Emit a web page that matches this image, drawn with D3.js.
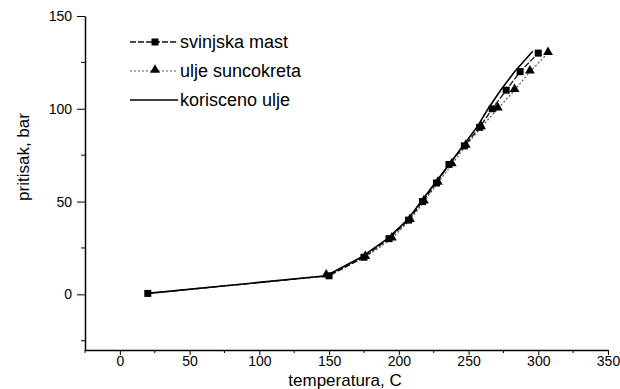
<!DOCTYPE html>
<html>
<head>
<meta charset="utf-8">
<script src="https://cdn.jsdelivr.net/npm/d3@7"></script>
<style>
  body { margin: 0; background: #fff; }
  svg { display: block; }
  text { font-family: "Liberation Sans", Arial, sans-serif; fill: #000; }
</style>
</head>
<body>
<svg id="chart" width="620" height="389"></svg>
<script>
// ---- data ----
const seriesNames = ["svinjska mast", "ulje suncokreta", "korisceno ulje"];
const tempMast = [20, 150, 175, 193, 207, 217, 227, 236, 247, 258, 267, 277, 287, 300];
const presMast = [0.5, 10, 20, 30, 40, 50, 60, 70, 80, 90, 100, 110, 120, 130];
const tempSuncokret = [148, 176, 195, 208, 218, 228, 238, 248, 259, 271, 283, 294, 307];
const presSuncokret = [10, 20, 30, 40, 50, 60, 70, 80, 90, 100, 110, 120, 130];
const tempKorisceno = [20, 148, 173, 192, 206, 216, 226, 236, 246, 256, 264, 273, 283, 296];
const presKorisceno = [0.5, 10, 20, 30, 40, 50, 60, 70, 80, 90, 100, 110, 120, 131];
const xTicks = [0, 50, 100, 150, 200, 250, 300, 350];
const yTicks = [0, 50, 100, 150];
const xMinor = [-25, 25, 75, 125, 175, 225, 275, 325];
const yMinor = [-25, 25, 75, 125];

(function () {
const svg = d3.select("#chart");
const mL = 85, mR = 608, mT = 16, mB = 350;
const x = d3.scaleLinear().domain([-25, 350]).range([mL, mR]);
const y = d3.scaleLinear().domain([-30, 150]).range([mB, mT]);

// axes
const xAxis = d3.axisBottom(x).tickValues(xTicks).tickSize(5).tickPadding(1).tickSizeOuter(0);
const gx = svg.append("g").attr("transform", `translate(0,${mB})`).call(xAxis);
gx.selectAll("text").style("font-size", "14px");
gx.append("g").selectAll("line").data(xMinor).join("line")
  .attr("x1", d => x(d)).attr("x2", d => x(d)).attr("y1", 0).attr("y2", 3).attr("stroke", "#000");

const yAxis = d3.axisLeft(y).tickValues(yTicks).tickSize(8).tickPadding(5).tickSizeOuter(0);
const gy = svg.append("g").attr("transform", `translate(${mL},0)`).call(yAxis);
gy.selectAll("text").style("font-size", "14px");
gy.append("g").selectAll("line").data(yMinor).join("line")
  .attr("y1", d => y(d)).attr("y2", d => y(d)).attr("x1", 0).attr("x2", -4).attr("stroke", "#000");
svg.selectAll(".domain").attr("stroke", "#000").attr("stroke-width", 1.5);
svg.selectAll(".tick line").attr("stroke", "#000");

// titles
svg.append("text").attr("x", 345).attr("y", 386)
  .attr("text-anchor", "middle").style("font-size", "17px").text("temperatura, C");
svg.append("text").attr("transform", `translate(29,${(mT + 294) / 2 + 2}) rotate(-90)`)
  .attr("text-anchor", "middle").style("font-size", "17px").text("pritisak, bar");

// lines
const line = d3.line().x(d => x(d[0])).y(d => y(d[1]));
const zip = (a, b) => a.map((v, i) => [v, b[i]]);
const dMast = zip(tempMast, presMast);
const dSun = zip(tempSuncokret, presSuncokret);
const dKor = zip(tempKorisceno, presKorisceno);

svg.append("path").datum(dSun).attr("d", line).attr("fill", "none")
  .attr("stroke", "#555").attr("stroke-width", 1.2).attr("stroke-dasharray", "2,2");
svg.append("path").datum(dMast).attr("d", line).attr("fill", "none")
  .attr("stroke", "#111").attr("stroke-width", 1.3).attr("stroke-dasharray", "6,2");
svg.append("path").datum(dKor).attr("d", line).attr("fill", "none")
  .attr("stroke", "#000").attr("stroke-width", 1.6);

// markers
const tri = d3.symbol().type(d3.symbolTriangle).size(42);
svg.append("g").selectAll("path").data(dSun).join("path")
  .attr("d", tri).attr("transform", d => `translate(${x(d[0])},${y(d[1]) - 1})`).attr("fill", "#000");
svg.append("g").selectAll("rect").data(dMast).join("rect")
  .attr("x", d => x(d[0]) - 3.5).attr("y", d => y(d[1]) - 3.5)
  .attr("width", 7).attr("height", 7).attr("fill", "#000");

// legend
const lg = svg.append("g");
const rows = [42, 71, 100];
lg.append("line").attr("x1", 130).attr("x2", 178).attr("y1", rows[0]).attr("y2", rows[0])
  .attr("stroke", "#111").attr("stroke-width", 1.3).attr("stroke-dasharray", "6,2");
lg.append("rect").attr("x", 151.5).attr("y", rows[0] - 3.5).attr("width", 7).attr("height", 7).attr("fill", "#000");
lg.append("line").attr("x1", 130).attr("x2", 178).attr("y1", rows[1]).attr("y2", rows[1])
  .attr("stroke", "#555").attr("stroke-width", 1.2).attr("stroke-dasharray", "2,2");
lg.append("path").attr("d", tri).attr("transform", `translate(155,${rows[1] - 1})`).attr("fill", "#000");
lg.append("line").attr("x1", 130).attr("x2", 178).attr("y1", rows[2]).attr("y2", rows[2])
  .attr("stroke", "#000").attr("stroke-width", 1.6);
seriesNames.forEach((n, i) => {
  lg.append("text").attr("x", 180).attr("y", rows[i] + 6).style("font-size", "18px").text(n);
});
})();
</script>
</body>
</html>
